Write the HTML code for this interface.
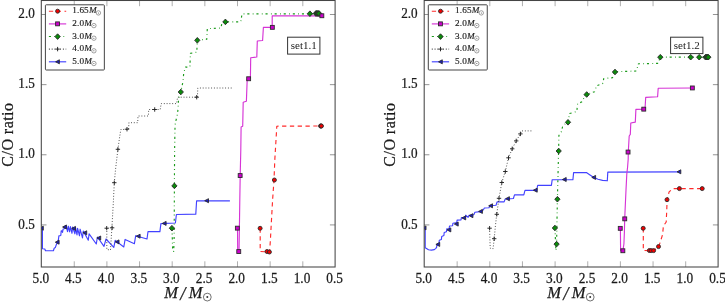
<!DOCTYPE html>
<html><head><meta charset="utf-8"><title>C/O ratio</title>
<style>
html,body{margin:0;padding:0;background:#fff;}
body{width:725px;height:302px;overflow:hidden;font-family:"Liberation Serif",serif;}
svg{display:block;will-change:transform;}
text{font-family:"Liberation Serif",serif;fill:#1a1a1a;stroke:#1a1a1a;stroke-width:0.25px;}
.tk{font-size:14px;}
.yl{font-size:17.2px;letter-spacing:0.5px;}
.xl{font-size:16.5px;}
.lg{font-size:9.2px;letter-spacing:0.15px;stroke-width:0.15px;}
.sb{font-size:11px;stroke-width:0;fill:#222;}
</style></head><body>
<svg width="725" height="302" viewBox="0 0 725 302">
<rect width="725" height="302" fill="#fff"/>
<defs><clipPath id="c1"><rect x="41.3" y="0.5" width="293.8" height="266.5"/></clipPath><clipPath id="c2"><rect x="424.2" y="0.5" width="293.9" height="266.5"/></clipPath></defs>
<g clip-path="url(#c1)">
<path d="M42.4,228.2 L42.4,248.7 L44.8,249.0 L45.5,250.7 L53.4,250.7 L54.2,248.3 L55.3,247.6 L56.1,245.2 L57.3,242.4 L58.4,239.6 L58.9,235.9 L60.8,235.5 L61.2,230.9 L62.0,230.9 L62.5,232.4 L63.1,229.1 L64.2,228.8 L64.8,227.0 L66.2,225.4 L67.5,231.7 L68.3,226.2 L69.6,231.8 L70.4,226.6 L72.0,233.3 L72.6,227.0 L74.9,233.8 L75.6,227.9 L77.0,235.0 L77.6,228.4 L79.5,235.8 L80.1,229.2 L82.5,237.9 L83.3,231.0 L88.3,240.2 L89.1,233.8 L96.3,244.0 L97.4,237.0 L104.0,246.3 L106.0,239.0 L113.8,247.4 L115.2,240.4 L123.8,247.0 L125.1,239.4 L134.4,243.7 L135.7,235.7 L147.0,239.0 L148.0,231.6 L159.9,231.6 L160.9,223.6 L175.4,223.0 L176.4,214.5 L195.8,214.1 L196.6,200.8 L229.9,200.8" fill="none" stroke="#4242ff" stroke-width="1.15" stroke-linejoin="round" />
<path d="M106.8,228.2 L106.8,249.5 L110.5,250.0 L111.9,227.7 L113.2,205.0 L114.3,182.7 L115.5,169.8 L116.9,157.8 L117.9,149.3 L119.5,138.0 L120.8,129.6 L128.6,129.2 L128.9,122.7 L137.7,122.7 L138.0,116.0 L148.4,116.0 L148.7,109.5 L160.2,109.5 L161.2,103.6 L176.6,103.6 L177.6,97.2 L197.4,97.2 L197.8,88.0 L232.9,88.0" fill="none" stroke="#3a3a3a" stroke-width="0.95" stroke-dasharray="0.9 1.9" stroke-linejoin="round" />
<path d="M172.0,228.2 L172.7,251.3 L173.7,251.3 L174.1,240.0 L174.2,228.0 L174.4,185.8 L174.6,150.0 L175.0,128.0 L175.4,122.4 L176.9,117.0 L178.0,109.5 L178.6,98.8 L180.8,91.9 L183.0,81.5 L183.7,73.3 L185.4,67.1 L189.9,67.1 L190.4,53.4 L196.8,52.2 L197.3,40.2 L206.8,39.3 L207.3,28.6 L220.9,28.1 L222.2,21.9 L240.8,21.9 L242.0,13.8 L319.0,13.8" fill="none" stroke="#1a9a1a" stroke-width="1.15" stroke-dasharray="2.1 3.3 0.8 2.9" stroke-linejoin="round" />
<path d="M237.5,228.1 L237.7,251.5 L239.0,251.5 L239.4,228.0 L239.8,200.0 L240.2,175.5 L240.8,150.0 L241.1,127.0 L242.7,126.2 L243.2,102.3 L246.4,101.3 L247.2,79.3 L250.4,78.4 L250.7,57.7 L256.8,57.0 L257.3,41.0 L262.6,40.5 L263.4,27.3 L272.2,27.3 L272.2,15.8 L322.0,15.8" fill="none" stroke="#d634d6" stroke-width="1.15" stroke-linejoin="round" />
<path d="M260.2,228.4 L260.2,251.5 L269.6,252.0 L270.4,240.0 L271.2,225.0 L272.6,200.0 L274.0,180.0 L274.8,160.0 L276.0,140.0 L276.8,126.2 L321.0,126.0" fill="none" stroke="#ff2a2a" stroke-width="1.15" stroke-dasharray="4.3 3.5" stroke-linejoin="round" />
<path d="M39.5,228.2 L43.3,226.2 L43.3,230.2 z" fill="#1818c0" stroke="#2c2c2c" stroke-width="0.9"/>
<path d="M55.3,242.2 L59.1,240.2 L59.1,244.2 z" fill="#1818c0" stroke="#2c2c2c" stroke-width="0.9"/>
<path d="M62.6,227.0 L66.4,225.0 L66.4,229.0 z" fill="#1818c0" stroke="#2c2c2c" stroke-width="0.9"/>
<path d="M71.7,228.4 L75.5,226.4 L75.5,230.4 z" fill="#1818c0" stroke="#2c2c2c" stroke-width="0.9"/>
<path d="M82.9,232.8 L86.7,230.8 L86.7,234.8 z" fill="#1818c0" stroke="#2c2c2c" stroke-width="0.9"/>
<path d="M96.9,238.0 L100.7,236.0 L100.7,240.0 z" fill="#1818c0" stroke="#2c2c2c" stroke-width="0.9"/>
<path d="M115.2,241.9 L119.0,239.9 L119.0,243.9 z" fill="#1818c0" stroke="#2c2c2c" stroke-width="0.9"/>
<path d="M136.3,236.2 L140.1,234.2 L140.1,238.2 z" fill="#1818c0" stroke="#2c2c2c" stroke-width="0.9"/>
<path d="M162.3,223.4 L166.1,221.4 L166.1,225.4 z" fill="#1818c0" stroke="#2c2c2c" stroke-width="0.9"/>
<path d="M204.7,200.7 L208.5,198.7 L208.5,202.7 z" fill="#1818c0" stroke="#2c2c2c" stroke-width="0.9"/>
<path d="M104.5,228.2 h4.4 M106.7,226.0 v4.4" stroke="#222" stroke-width="0.95" fill="none"/>
<path d="M109.9,227.8 h4.4 M112.1,225.6 v4.4" stroke="#222" stroke-width="0.95" fill="none"/>
<path d="M112.1,182.7 h4.4 M114.3,180.5 v4.4" stroke="#222" stroke-width="0.95" fill="none"/>
<path d="M115.7,149.3 h4.4 M117.9,147.1 v4.4" stroke="#222" stroke-width="0.95" fill="none"/>
<path d="M124.8,129.2 h4.4 M127.0,127.0 v4.4" stroke="#222" stroke-width="0.95" fill="none"/>
<path d="M152.5,109.5 h4.4 M154.7,107.3 v4.4" stroke="#222" stroke-width="0.95" fill="none"/>
<path d="M194.5,97.2 h4.4 M196.7,95.0 v4.4" stroke="#222" stroke-width="0.95" fill="none"/>
<path d="M171.9,225.4 l2.6,2.8 l-2.6,2.8 l-2.6,-2.8 z" fill="#0a8c0a" stroke="#2c2c2c" stroke-width="0.95"/>
<path d="M174.4,183.1 l2.6,2.8 l-2.6,2.8 l-2.6,-2.8 z" fill="#0a8c0a" stroke="#2c2c2c" stroke-width="0.95"/>
<path d="M180.8,89.2 l2.6,2.8 l-2.6,2.8 l-2.6,-2.8 z" fill="#0a8c0a" stroke="#2c2c2c" stroke-width="0.95"/>
<path d="M197.3,37.5 l2.6,2.8 l-2.6,2.8 l-2.6,-2.8 z" fill="#0a8c0a" stroke="#2c2c2c" stroke-width="0.95"/>
<path d="M225.4,19.1 l2.6,2.8 l-2.6,2.8 l-2.6,-2.8 z" fill="#0a8c0a" stroke="#2c2c2c" stroke-width="0.95"/>
<path d="M309.9,10.9 l2.6,2.8 l-2.6,2.8 l-2.6,-2.8 z" fill="#0a8c0a" stroke="#2c2c2c" stroke-width="0.95"/>
<path d="M315.8,10.7 l2.6,2.8 l-2.6,2.8 l-2.6,-2.8 z" fill="#0a8c0a" stroke="#2c2c2c" stroke-width="0.95"/>
<path d="M316.5,10.6 l2.6,2.8 l-2.6,2.8 l-2.6,-2.8 z" fill="#0a8c0a" stroke="#2c2c2c" stroke-width="0.95"/>
<path d="M317.2,10.7 l2.6,2.8 l-2.6,2.8 l-2.6,-2.8 z" fill="#0a8c0a" stroke="#2c2c2c" stroke-width="0.95"/>
<path d="M317.9,10.6 l2.6,2.8 l-2.6,2.8 l-2.6,-2.8 z" fill="#0a8c0a" stroke="#2c2c2c" stroke-width="0.95"/>
<path d="M318.6,10.7 l2.6,2.8 l-2.6,2.8 l-2.6,-2.8 z" fill="#0a8c0a" stroke="#2c2c2c" stroke-width="0.95"/>
<path d="M319.2,10.8 l2.6,2.8 l-2.6,2.8 l-2.6,-2.8 z" fill="#0a8c0a" stroke="#2c2c2c" stroke-width="0.95"/>
<rect x="235.4" y="226.2" width="3.9" height="3.9" fill="#cc00cc" stroke="#2c2c2c" stroke-width="0.9"/>
<rect x="236.8" y="249.6" width="3.9" height="3.9" fill="#cc00cc" stroke="#2c2c2c" stroke-width="0.9"/>
<rect x="238.2" y="173.6" width="3.9" height="3.9" fill="#cc00cc" stroke="#2c2c2c" stroke-width="0.9"/>
<rect x="246.7" y="76.8" width="3.9" height="3.9" fill="#cc00cc" stroke="#2c2c2c" stroke-width="0.9"/>
<rect x="270.4" y="25.4" width="3.9" height="3.9" fill="#cc00cc" stroke="#2c2c2c" stroke-width="0.9"/>
<rect x="319.9" y="13.8" width="3.9" height="3.9" fill="#cc00cc" stroke="#2c2c2c" stroke-width="0.9"/>
<circle cx="260.1" cy="228.3" r="2.0" fill="#f00000" stroke="#2c2c2c" stroke-width="0.9"/>
<circle cx="267.0" cy="251.5" r="2.0" fill="#f00000" stroke="#2c2c2c" stroke-width="0.9"/>
<circle cx="269.4" cy="252.0" r="2.0" fill="#f00000" stroke="#2c2c2c" stroke-width="0.9"/>
<circle cx="274.4" cy="180.0" r="2.0" fill="#f00000" stroke="#2c2c2c" stroke-width="0.9"/>
<circle cx="320.6" cy="126.0" r="2.0" fill="#f00000" stroke="#2c2c2c" stroke-width="0.9"/>
<circle cx="321.0" cy="126.0" r="2.0" fill="#f00000" stroke="#2c2c2c" stroke-width="0.9"/>
<circle cx="321.4" cy="126.0" r="2.0" fill="#f00000" stroke="#2c2c2c" stroke-width="0.9"/>
</g>
<path d="M74.25,267.0 v-5.7 M74.25,0.5 v5.7" stroke="#9a9a9a" stroke-width="0.8"/>
<path d="M106.90,267.0 v-5.7 M106.90,0.5 v5.7" stroke="#9a9a9a" stroke-width="0.8"/>
<path d="M139.55,267.0 v-5.7 M139.55,0.5 v5.7" stroke="#9a9a9a" stroke-width="0.8"/>
<path d="M172.20,267.0 v-5.7 M172.20,0.5 v5.7" stroke="#9a9a9a" stroke-width="0.8"/>
<path d="M204.85,267.0 v-5.7 M204.85,0.5 v5.7" stroke="#9a9a9a" stroke-width="0.8"/>
<path d="M237.50,267.0 v-5.7 M237.50,0.5 v5.7" stroke="#9a9a9a" stroke-width="0.8"/>
<path d="M270.15,267.0 v-5.7 M270.15,0.5 v5.7" stroke="#9a9a9a" stroke-width="0.8"/>
<path d="M302.80,267.0 v-5.7 M302.80,0.5 v5.7" stroke="#9a9a9a" stroke-width="0.8"/>
<path d="M41.3,224.92 h5.2 M335.1,224.92 h-5.2" stroke="#5a5a5a" stroke-width="0.65"/>
<path d="M41.3,154.78 h5.2 M335.1,154.78 h-5.2" stroke="#5a5a5a" stroke-width="0.65"/>
<path d="M41.3,84.65 h5.2 M335.1,84.65 h-5.2" stroke="#5a5a5a" stroke-width="0.65"/>
<path d="M41.3,14.51 h5.2 M335.1,14.51 h-5.2" stroke="#5a5a5a" stroke-width="0.65"/>
<rect x="41.3" y="0.5" width="293.8" height="266.5" fill="none" stroke="#454545" stroke-width="1.05"/>
<text transform="translate(40.8,282.7) scale(0.95,1)" text-anchor="middle" class="tk">5.0</text>
<text transform="translate(73.4,282.7) scale(0.95,1)" text-anchor="middle" class="tk">4.5</text>
<text transform="translate(106.1,282.7) scale(0.95,1)" text-anchor="middle" class="tk">4.0</text>
<text transform="translate(138.8,282.7) scale(0.95,1)" text-anchor="middle" class="tk">3.5</text>
<text transform="translate(171.4,282.7) scale(0.95,1)" text-anchor="middle" class="tk">3.0</text>
<text transform="translate(204.1,282.7) scale(0.95,1)" text-anchor="middle" class="tk">2.5</text>
<text transform="translate(236.7,282.7) scale(0.95,1)" text-anchor="middle" class="tk">2.0</text>
<text transform="translate(269.3,282.7) scale(0.95,1)" text-anchor="middle" class="tk">1.5</text>
<text transform="translate(302.0,282.7) scale(0.95,1)" text-anchor="middle" class="tk">1.0</text>
<text transform="translate(334.6,282.7) scale(0.95,1)" text-anchor="middle" class="tk">0.5</text>
<text transform="translate(34.8,228.5) scale(0.94,1)" text-anchor="end" class="tk">0.5</text>
<text transform="translate(34.8,158.4) scale(0.94,1)" text-anchor="end" class="tk">1.0</text>
<text transform="translate(34.8,88.2) scale(0.94,1)" text-anchor="end" class="tk">1.5</text>
<text transform="translate(34.8,18.1) scale(0.94,1)" text-anchor="end" class="tk">2.0</text>
<text transform="translate(12.5,134.6) rotate(-90) scale(0.93,1)" text-anchor="middle" class="yl">C/O ratio</text>
<text x="164.3" y="297.9" class="xl" text-anchor="start"><tspan font-style="italic">M</tspan><tspan dx="2.2" dy="2.3" font-size="18.5" font-style="italic">/</tspan><tspan dx="3.4" dy="-2.3" font-style="italic">M</tspan></text>
<circle cx="207.3" cy="297.1" r="3.9" fill="none" stroke="#444" stroke-width="0.75"/><circle cx="207.3" cy="297.1" r="1.0" fill="#333"/>
<rect x="45.4" y="4.8" width="58.95" height="65.2" fill="#fff" stroke="#444" stroke-width="1.0" rx="0.8"/>
<path d="M48.9,11.2 L66.2,11.2" fill="none" stroke="#ff2a2a" stroke-width="1.15" stroke-dasharray="4.3 3.5" stroke-linejoin="round" />
<circle cx="57.6" cy="11.2" r="2.0" fill="#f00000" stroke="#2c2c2c" stroke-width="0.9"/>
<path d="M48.9,23.9 L66.2,23.9" fill="none" stroke="#d634d6" stroke-width="1.15" stroke-linejoin="round" />
<rect x="55.6" y="21.9" width="3.9" height="3.9" fill="#cc00cc" stroke="#2c2c2c" stroke-width="0.9"/>
<path d="M48.9,36.5 L66.2,36.5" fill="none" stroke="#1a9a1a" stroke-width="1.15" stroke-dasharray="2.1 3.3 0.8 2.9" stroke-linejoin="round" />
<path d="M57.6,33.8 l2.6,2.8 l-2.6,2.8 l-2.6,-2.8 z" fill="#0a8c0a" stroke="#2c2c2c" stroke-width="0.95"/>
<path d="M48.9,49.1 L66.2,49.1" fill="none" stroke="#3a3a3a" stroke-width="1.15" stroke-dasharray="0.9 1.9" stroke-linejoin="round" />
<path d="M55.4,49.1 h4.4 M57.6,46.9 v4.4" stroke="#222" stroke-width="0.95" fill="none"/>
<path d="M48.9,61.8 L66.2,61.8" fill="none" stroke="#4242ff" stroke-width="1.15" stroke-linejoin="round" />
<path d="M55.6,61.8 L59.4,59.8 L59.4,63.8 z" fill="#1818c0" stroke="#2c2c2c" stroke-width="0.9"/>
<text x="72.2" y="13.4" class="lg">1.65<tspan font-style="italic">M</tspan></text>
<circle cx="98.4" cy="12.9" r="2.2" fill="none" stroke="#444" stroke-width="0.5"/><circle cx="98.4" cy="12.9" r="0.5" fill="#444"/>
<text x="72.2" y="26.1" class="lg">2.0<tspan font-style="italic">M</tspan></text>
<circle cx="93.9" cy="25.6" r="2.2" fill="none" stroke="#444" stroke-width="0.5"/><circle cx="93.9" cy="25.6" r="0.5" fill="#444"/>
<text x="72.2" y="38.8" class="lg">3.0<tspan font-style="italic">M</tspan></text>
<circle cx="93.9" cy="38.2" r="2.2" fill="none" stroke="#444" stroke-width="0.5"/><circle cx="93.9" cy="38.2" r="0.5" fill="#444"/>
<text x="72.2" y="51.3" class="lg">4.0<tspan font-style="italic">M</tspan></text>
<circle cx="93.9" cy="50.8" r="2.2" fill="none" stroke="#444" stroke-width="0.5"/><circle cx="93.9" cy="50.8" r="0.5" fill="#444"/>
<text x="72.2" y="64.0" class="lg">5.0<tspan font-style="italic">M</tspan></text>
<circle cx="93.9" cy="63.5" r="2.2" fill="none" stroke="#444" stroke-width="0.5"/><circle cx="93.9" cy="63.5" r="0.5" fill="#444"/>
<rect x="287.6" y="37.2" width="32.3" height="16.9" fill="#fff" stroke="#333" stroke-width="1"/>
<text x="303.8" y="48.7" text-anchor="middle" class="sb">set1.1</text>
<g clip-path="url(#c2)">
<path d="M425.2,227.9 L425.2,247.8 L426.5,248.6 L428.5,249.8 L431.5,250.1 L434.3,249.6 L435.6,248.6 L436.6,247.3 L437.0,244.3 L439.0,243.3 L439.3,240.3 L441.4,239.5 L441.7,236.5 L443.9,235.5 L444.2,232.5 L446.4,231.8 L446.8,228.8 L449.1,229.0 L449.5,226.0 L452.6,225.7 L452.9,223.2 L456.8,222.6 L457.1,220.1 L461.0,220.0 L461.4,217.5 L465.3,217.7 L465.7,215.2 L468.1,217.4 L469.0,215.2 L473.9,214.6 L474.9,212.2 L480.4,211.6 L483.2,210.0 L484.4,208.0 L489.0,207.7 L490.0,205.6 L496.0,205.3 L497.1,201.9 L504.1,201.9 L505.2,199.0 L513.4,198.5 L514.5,194.9 L523.8,194.9 L525.0,190.3 L536.6,190.3 L537.7,185.3 L551.4,185.3 L552.2,179.7 L572.9,179.7 L573.6,172.6 L586.4,172.6 L590.0,175.0 L593.8,177.5 L598.0,179.3 L602.6,180.4 L607.3,180.8 L607.8,172.1 L679.0,171.9" fill="none" stroke="#4242ff" stroke-width="1.15" stroke-linejoin="round" />
<path d="M489.6,228.3 L490.2,248.2 L493.1,248.7 L494.2,238.7 L495.4,226.0 L496.7,214.5 L499.0,198.3 L501.8,182.5 L505.3,171.4 L508.5,157.8 L512.2,148.8 L516.2,140.9 L520.4,133.9 L521.8,130.9 L532.7,130.9" fill="none" stroke="#3a3a3a" stroke-width="0.95" stroke-dasharray="0.9 1.9" stroke-linejoin="round" />
<path d="M554.9,228.0 L555.9,250.6 L556.6,244.1 L557.0,220.0 L557.4,199.2 L558.0,175.0 L558.6,151.2 L558.9,135.4 L560.9,133.4 L562.9,125.4 L568.0,122.2 L569.6,113.5 L576.8,111.5 L577.6,103.6 L582.7,101.6 L584.7,95.0 L594.7,91.7 L596.6,85.7 L602.6,83.7 L603.8,78.5 L612.5,77.7 L614.5,71.8 L636.4,71.0 L638.4,63.8 L658.2,63.4 L660.2,57.1 L708.0,57.1" fill="none" stroke="#1a9a1a" stroke-width="1.15" stroke-dasharray="2.1 3.3 0.8 2.9" stroke-linejoin="round" />
<path d="M620.4,228.3 L620.6,250.6 L622.9,250.6 L623.9,244.0 L624.4,232.0 L624.7,218.8 L626.0,190.0 L626.8,174.0 L627.6,167.0 L628.2,159.0 L628.3,151.8 L629.2,136.0 L630.3,134.4 L630.8,123.0 L635.3,122.1 L635.9,109.4 L645.0,109.3 L645.7,97.4 L657.6,96.8 L658.2,88.3 L692.4,88.0" fill="none" stroke="#d634d6" stroke-width="1.15" stroke-linejoin="round" />
<path d="M643.3,228.3 L643.3,250.5 L653.6,250.7 L658.7,246.6 L660.6,241.0 L662.6,234.5 L663.4,226.0 L666.2,222.0 L666.7,211.6 L667.1,199.8 L669.1,191.9 L672.7,188.6 L702.3,188.6" fill="none" stroke="#ff2a2a" stroke-width="1.15" stroke-dasharray="4.3 3.5" stroke-linejoin="round" />
<path d="M422.2,227.9 L426.0,225.9 L426.0,229.9 z" fill="#1818c0" stroke="#2c2c2c" stroke-width="0.9"/>
<path d="M435.9,244.4 L439.7,242.4 L439.7,246.4 z" fill="#1818c0" stroke="#2c2c2c" stroke-width="0.9"/>
<path d="M447.0,229.9 L450.8,227.9 L450.8,231.9 z" fill="#1818c0" stroke="#2c2c2c" stroke-width="0.9"/>
<path d="M454.4,224.1 L458.2,222.1 L458.2,226.1 z" fill="#1818c0" stroke="#2c2c2c" stroke-width="0.9"/>
<path d="M461.9,217.9 L465.7,215.9 L465.7,219.9 z" fill="#1818c0" stroke="#2c2c2c" stroke-width="0.9"/>
<path d="M469.1,215.7 L472.9,213.7 L472.9,217.7 z" fill="#1818c0" stroke="#2c2c2c" stroke-width="0.9"/>
<path d="M478.6,211.4 L482.4,209.4 L482.4,213.4 z" fill="#1818c0" stroke="#2c2c2c" stroke-width="0.9"/>
<path d="M488.7,205.8 L492.5,203.8 L492.5,207.8 z" fill="#1818c0" stroke="#2c2c2c" stroke-width="0.9"/>
<path d="M505.6,198.7 L509.4,196.7 L509.4,200.7 z" fill="#1818c0" stroke="#2c2c2c" stroke-width="0.9"/>
<path d="M533.4,190.2 L537.2,188.2 L537.2,192.2 z" fill="#1818c0" stroke="#2c2c2c" stroke-width="0.9"/>
<path d="M562.4,179.5 L566.2,177.5 L566.2,181.5 z" fill="#1818c0" stroke="#2c2c2c" stroke-width="0.9"/>
<path d="M591.8,177.4 L595.6,175.4 L595.6,179.4 z" fill="#1818c0" stroke="#2c2c2c" stroke-width="0.9"/>
<path d="M677.0,171.8 L680.8,169.8 L680.8,173.8 z" fill="#1818c0" stroke="#2c2c2c" stroke-width="0.9"/>
<path d="M487.4,228.2 h4.4 M489.6,226.0 v4.4" stroke="#222" stroke-width="0.95" fill="none"/>
<path d="M492.0,238.7 h4.4 M494.2,236.5 v4.4" stroke="#222" stroke-width="0.95" fill="none"/>
<path d="M494.6,214.3 h4.4 M496.8,212.1 v4.4" stroke="#222" stroke-width="0.95" fill="none"/>
<path d="M496.8,198.3 h4.4 M499.0,196.1 v4.4" stroke="#222" stroke-width="0.95" fill="none"/>
<path d="M499.6,182.5 h4.4 M501.8,180.3 v4.4" stroke="#222" stroke-width="0.95" fill="none"/>
<path d="M503.1,171.5 h4.4 M505.3,169.3 v4.4" stroke="#222" stroke-width="0.95" fill="none"/>
<path d="M506.3,157.8 h4.4 M508.5,155.6 v4.4" stroke="#222" stroke-width="0.95" fill="none"/>
<path d="M510.0,148.8 h4.4 M512.2,146.6 v4.4" stroke="#222" stroke-width="0.95" fill="none"/>
<path d="M514.0,140.9 h4.4 M516.2,138.7 v4.4" stroke="#222" stroke-width="0.95" fill="none"/>
<path d="M518.2,133.9 h4.4 M520.4,131.7 v4.4" stroke="#222" stroke-width="0.95" fill="none"/>
<path d="M554.9,225.2 l2.6,2.8 l-2.6,2.8 l-2.6,-2.8 z" fill="#0a8c0a" stroke="#2c2c2c" stroke-width="0.95"/>
<path d="M556.6,241.3 l2.6,2.8 l-2.6,2.8 l-2.6,-2.8 z" fill="#0a8c0a" stroke="#2c2c2c" stroke-width="0.95"/>
<path d="M557.4,196.4 l2.6,2.8 l-2.6,2.8 l-2.6,-2.8 z" fill="#0a8c0a" stroke="#2c2c2c" stroke-width="0.95"/>
<path d="M558.7,148.2 l2.6,2.8 l-2.6,2.8 l-2.6,-2.8 z" fill="#0a8c0a" stroke="#2c2c2c" stroke-width="0.95"/>
<path d="M568.0,119.5 l2.6,2.8 l-2.6,2.8 l-2.6,-2.8 z" fill="#0a8c0a" stroke="#2c2c2c" stroke-width="0.95"/>
<path d="M586.7,91.7 l2.6,2.8 l-2.6,2.8 l-2.6,-2.8 z" fill="#0a8c0a" stroke="#2c2c2c" stroke-width="0.95"/>
<path d="M615.0,69.2 l2.6,2.8 l-2.6,2.8 l-2.6,-2.8 z" fill="#0a8c0a" stroke="#2c2c2c" stroke-width="0.95"/>
<path d="M660.3,54.4 l2.6,2.8 l-2.6,2.8 l-2.6,-2.8 z" fill="#0a8c0a" stroke="#2c2c2c" stroke-width="0.95"/>
<path d="M690.7,54.4 l2.6,2.8 l-2.6,2.8 l-2.6,-2.8 z" fill="#0a8c0a" stroke="#2c2c2c" stroke-width="0.95"/>
<path d="M699.2,54.4 l2.6,2.8 l-2.6,2.8 l-2.6,-2.8 z" fill="#0a8c0a" stroke="#2c2c2c" stroke-width="0.95"/>
<path d="M705.5,54.4 l2.6,2.8 l-2.6,2.8 l-2.6,-2.8 z" fill="#0a8c0a" stroke="#2c2c2c" stroke-width="0.95"/>
<path d="M706.3,54.2 l2.6,2.8 l-2.6,2.8 l-2.6,-2.8 z" fill="#0a8c0a" stroke="#2c2c2c" stroke-width="0.95"/>
<path d="M707.0,54.4 l2.6,2.8 l-2.6,2.8 l-2.6,-2.8 z" fill="#0a8c0a" stroke="#2c2c2c" stroke-width="0.95"/>
<path d="M707.7,54.2 l2.6,2.8 l-2.6,2.8 l-2.6,-2.8 z" fill="#0a8c0a" stroke="#2c2c2c" stroke-width="0.95"/>
<path d="M708.3,54.4 l2.6,2.8 l-2.6,2.8 l-2.6,-2.8 z" fill="#0a8c0a" stroke="#2c2c2c" stroke-width="0.95"/>
<rect x="618.3" y="226.4" width="3.9" height="3.9" fill="#cc00cc" stroke="#2c2c2c" stroke-width="0.9"/>
<rect x="620.9" y="248.8" width="3.9" height="3.9" fill="#cc00cc" stroke="#2c2c2c" stroke-width="0.9"/>
<rect x="622.8" y="216.9" width="3.9" height="3.9" fill="#cc00cc" stroke="#2c2c2c" stroke-width="0.9"/>
<rect x="626.1" y="150.1" width="3.9" height="3.9" fill="#cc00cc" stroke="#2c2c2c" stroke-width="0.9"/>
<rect x="641.8" y="107.2" width="3.9" height="3.9" fill="#cc00cc" stroke="#2c2c2c" stroke-width="0.9"/>
<rect x="690.4" y="86.0" width="3.9" height="3.9" fill="#cc00cc" stroke="#2c2c2c" stroke-width="0.9"/>
<circle cx="643.2" cy="228.3" r="2.0" fill="#f00000" stroke="#2c2c2c" stroke-width="0.9"/>
<circle cx="649.4" cy="250.5" r="2.0" fill="#f00000" stroke="#2c2c2c" stroke-width="0.9"/>
<circle cx="651.2" cy="250.6" r="2.0" fill="#f00000" stroke="#2c2c2c" stroke-width="0.9"/>
<circle cx="653.6" cy="250.6" r="2.0" fill="#f00000" stroke="#2c2c2c" stroke-width="0.9"/>
<circle cx="658.5" cy="246.6" r="2.0" fill="#f00000" stroke="#2c2c2c" stroke-width="0.9"/>
<circle cx="667.0" cy="199.7" r="2.0" fill="#f00000" stroke="#2c2c2c" stroke-width="0.9"/>
<circle cx="679.4" cy="188.6" r="2.0" fill="#f00000" stroke="#2c2c2c" stroke-width="0.9"/>
<circle cx="702.2" cy="188.6" r="2.0" fill="#f00000" stroke="#2c2c2c" stroke-width="0.9"/>
</g>
<path d="M457.15,267.0 v-5.7 M457.15,0.5 v5.7" stroke="#9a9a9a" stroke-width="0.8"/>
<path d="M489.80,267.0 v-5.7 M489.80,0.5 v5.7" stroke="#9a9a9a" stroke-width="0.8"/>
<path d="M522.45,267.0 v-5.7 M522.45,0.5 v5.7" stroke="#9a9a9a" stroke-width="0.8"/>
<path d="M555.10,267.0 v-5.7 M555.10,0.5 v5.7" stroke="#9a9a9a" stroke-width="0.8"/>
<path d="M587.75,267.0 v-5.7 M587.75,0.5 v5.7" stroke="#9a9a9a" stroke-width="0.8"/>
<path d="M620.40,267.0 v-5.7 M620.40,0.5 v5.7" stroke="#9a9a9a" stroke-width="0.8"/>
<path d="M653.05,267.0 v-5.7 M653.05,0.5 v5.7" stroke="#9a9a9a" stroke-width="0.8"/>
<path d="M685.70,267.0 v-5.7 M685.70,0.5 v5.7" stroke="#9a9a9a" stroke-width="0.8"/>
<path d="M424.2,224.92 h5.2 M718.1,224.92 h-5.2" stroke="#5a5a5a" stroke-width="0.65"/>
<path d="M424.2,154.78 h5.2 M718.1,154.78 h-5.2" stroke="#5a5a5a" stroke-width="0.65"/>
<path d="M424.2,84.65 h5.2 M718.1,84.65 h-5.2" stroke="#5a5a5a" stroke-width="0.65"/>
<path d="M424.2,14.51 h5.2 M718.1,14.51 h-5.2" stroke="#5a5a5a" stroke-width="0.65"/>
<rect x="424.2" y="0.5" width="293.9" height="266.5" fill="none" stroke="#454545" stroke-width="1.05"/>
<text transform="translate(423.7,282.7) scale(0.95,1)" text-anchor="middle" class="tk">5.0</text>
<text transform="translate(456.3,282.7) scale(0.95,1)" text-anchor="middle" class="tk">4.5</text>
<text transform="translate(489.0,282.7) scale(0.95,1)" text-anchor="middle" class="tk">4.0</text>
<text transform="translate(521.6,282.7) scale(0.95,1)" text-anchor="middle" class="tk">3.5</text>
<text transform="translate(554.3,282.7) scale(0.95,1)" text-anchor="middle" class="tk">3.0</text>
<text transform="translate(587.0,282.7) scale(0.95,1)" text-anchor="middle" class="tk">2.5</text>
<text transform="translate(619.6,282.7) scale(0.95,1)" text-anchor="middle" class="tk">2.0</text>
<text transform="translate(652.2,282.7) scale(0.95,1)" text-anchor="middle" class="tk">1.5</text>
<text transform="translate(684.9,282.7) scale(0.95,1)" text-anchor="middle" class="tk">1.0</text>
<text transform="translate(717.5,282.7) scale(0.95,1)" text-anchor="middle" class="tk">0.5</text>
<text transform="translate(417.7,228.5) scale(0.94,1)" text-anchor="end" class="tk">0.5</text>
<text transform="translate(417.7,158.4) scale(0.94,1)" text-anchor="end" class="tk">1.0</text>
<text transform="translate(417.7,88.2) scale(0.94,1)" text-anchor="end" class="tk">1.5</text>
<text transform="translate(417.7,18.1) scale(0.94,1)" text-anchor="end" class="tk">2.0</text>
<text transform="translate(395.4,134.6) rotate(-90) scale(0.93,1)" text-anchor="middle" class="yl">C/O ratio</text>
<text x="547.2" y="297.9" class="xl" text-anchor="start"><tspan font-style="italic">M</tspan><tspan dx="2.2" dy="2.3" font-size="18.5" font-style="italic">/</tspan><tspan dx="3.4" dy="-2.3" font-style="italic">M</tspan></text>
<circle cx="590.2" cy="297.1" r="3.9" fill="none" stroke="#444" stroke-width="0.75"/><circle cx="590.2" cy="297.1" r="1.0" fill="#333"/>
<rect x="428.3" y="4.8" width="58.95" height="65.2" fill="#fff" stroke="#444" stroke-width="1.0" rx="0.8"/>
<path d="M431.8,11.2 L449.1,11.2" fill="none" stroke="#ff2a2a" stroke-width="1.15" stroke-dasharray="4.3 3.5" stroke-linejoin="round" />
<circle cx="440.5" cy="11.2" r="2.0" fill="#f00000" stroke="#2c2c2c" stroke-width="0.9"/>
<path d="M431.8,23.9 L449.1,23.9" fill="none" stroke="#d634d6" stroke-width="1.15" stroke-linejoin="round" />
<rect x="438.5" y="21.9" width="3.9" height="3.9" fill="#cc00cc" stroke="#2c2c2c" stroke-width="0.9"/>
<path d="M431.8,36.5 L449.1,36.5" fill="none" stroke="#1a9a1a" stroke-width="1.15" stroke-dasharray="2.1 3.3 0.8 2.9" stroke-linejoin="round" />
<path d="M440.5,33.8 l2.6,2.8 l-2.6,2.8 l-2.6,-2.8 z" fill="#0a8c0a" stroke="#2c2c2c" stroke-width="0.95"/>
<path d="M431.8,49.1 L449.1,49.1" fill="none" stroke="#3a3a3a" stroke-width="1.15" stroke-dasharray="0.9 1.9" stroke-linejoin="round" />
<path d="M438.3,49.1 h4.4 M440.5,46.9 v4.4" stroke="#222" stroke-width="0.95" fill="none"/>
<path d="M431.8,61.8 L449.1,61.8" fill="none" stroke="#4242ff" stroke-width="1.15" stroke-linejoin="round" />
<path d="M438.5,61.8 L442.3,59.8 L442.3,63.8 z" fill="#1818c0" stroke="#2c2c2c" stroke-width="0.9"/>
<text x="455.1" y="13.4" class="lg">1.65<tspan font-style="italic">M</tspan></text>
<circle cx="481.3" cy="12.9" r="2.2" fill="none" stroke="#444" stroke-width="0.5"/><circle cx="481.3" cy="12.9" r="0.5" fill="#444"/>
<text x="455.1" y="26.1" class="lg">2.0<tspan font-style="italic">M</tspan></text>
<circle cx="476.8" cy="25.6" r="2.2" fill="none" stroke="#444" stroke-width="0.5"/><circle cx="476.8" cy="25.6" r="0.5" fill="#444"/>
<text x="455.1" y="38.8" class="lg">3.0<tspan font-style="italic">M</tspan></text>
<circle cx="476.8" cy="38.2" r="2.2" fill="none" stroke="#444" stroke-width="0.5"/><circle cx="476.8" cy="38.2" r="0.5" fill="#444"/>
<text x="455.1" y="51.3" class="lg">4.0<tspan font-style="italic">M</tspan></text>
<circle cx="476.8" cy="50.8" r="2.2" fill="none" stroke="#444" stroke-width="0.5"/><circle cx="476.8" cy="50.8" r="0.5" fill="#444"/>
<text x="455.1" y="64.0" class="lg">5.0<tspan font-style="italic">M</tspan></text>
<circle cx="476.8" cy="63.5" r="2.2" fill="none" stroke="#444" stroke-width="0.5"/><circle cx="476.8" cy="63.5" r="0.5" fill="#444"/>
<rect x="670.6" y="37.2" width="32.3" height="16.4" fill="#fff" stroke="#333" stroke-width="1"/>
<text x="686.8" y="48.7" text-anchor="middle" class="sb">set1.2</text>
</svg>
</body></html>
